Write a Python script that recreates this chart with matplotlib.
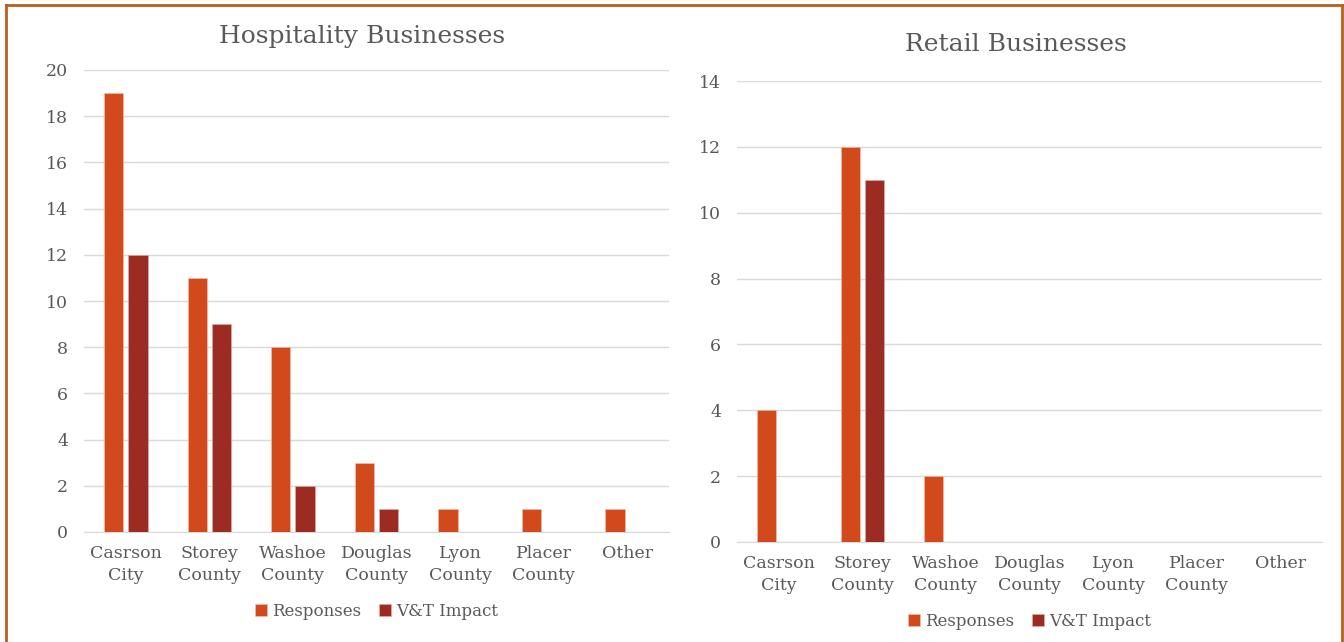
import numpy as np
import matplotlib; matplotlib.use("Agg")
import matplotlib.pyplot as plt
from matplotlib.lines import Line2D

plt.rcParams['font.family'] = ['DejaVu Serif']

CATEGORIES = ["Casrson\nCity", "Storey\nCounty", "Washoe\nCounty", "Douglas\nCounty",
              "Lyon\nCounty", "Placer\nCounty", "Other"]
SERIES = ["Responses", "V&T Impact"]
HOSP_RESPONSES = [19, 11, 8, 3, 1, 1, 1]
HOSP_IMPACT = [12, 9, 2, 1, 0, 0, 0]
RETAIL_RESPONSES = [4, 12, 2, 0, 0, 0, 0]
RETAIL_IMPACT = [0, 11, 0, 0, 0, 0, 0]

C_RESP = "#D24A1B"
C_IMP = "#9C2B21"
TXT = "#595959"
GRID = "#D9D9D9"
BORDER = "#B8601E"

W, H = 1344, 642
fig = plt.figure(figsize=(W/100, H/100), dpi=100)

def px_axes(x0, x1, ytop, ybot):
    return fig.add_axes([x0/W, (H-ybot)/H, (x1-x0)/W, (ybot-ytop)/H])

def draw(ax, title, resp, imp, ymax, title_y, leg_y):
    x = np.arange(len(CATEGORIES))
    bw = 0.23
    ax.bar(x - bw/2 - 0.03, resp, bw, color=C_RESP, edgecolor="#F3C2AE", linewidth=0.4, label=SERIES[0], zorder=3)
    ax.bar(x + bw/2 + 0.03, imp, bw, color=C_IMP, edgecolor="#E0B0A8", linewidth=0.4, label=SERIES[1], zorder=3)
    ax.set_xlim(-0.5, len(CATEGORIES) - 0.5)
    ax.set_ylim(0, ymax)
    ax.set_yticks(np.arange(0, ymax + 1, 2))
    ax.yaxis.grid(True, color=GRID, linewidth=1, zorder=0)
    ax.set_axisbelow(True)
    for s in ["top", "right", "left"]:
        ax.spines[s].set_visible(False)
    ax.spines["bottom"].set_color(GRID)
    ax.set_xticks(x)
    ax.set_xticklabels(CATEGORIES, fontsize=12.5, color=TXT, linespacing=1.4)
    ax.tick_params(axis="both", length=0, colors=TXT, labelsize=12.5)
    ax.tick_params(axis="y", pad=11.5)
    ax.tick_params(axis="x", pad=9)
    ax.set_title(title, fontsize=18, color=TXT, x=0.476, y=title_y)
    ax.legend(loc="center", bbox_to_anchor=(0.5, leg_y), ncol=2, frameon=False,
              fontsize=12, labelcolor=TXT, handlelength=0.7, handleheight=0.7,
              handletextpad=0.3, columnspacing=1.1)

ax1 = px_axes(84, 669, 70, 532)
draw(ax1, "Hospitality Businesses", HOSP_RESPONSES, HOSP_IMPACT, 20, 1.04, -0.172)
ax2 = px_axes(737, 1322, 81, 542)
draw(ax2, "Retail Businesses", RETAIL_RESPONSES, RETAIL_IMPACT, 14, 1.048, -0.172)

# outer frame
for xs, ys in [([6/W, 6/W], [0, 1 - 5/H]), ([6/W, 1342/W], [1 - 5/H, 1 - 5/H]),
               ([1342/W, 1342/W], [0, 1 - 5/H])]:
    fig.add_artist(Line2D(xs, ys, color=BORDER, linewidth=2))

fig.savefig("out.png", dpi=100)
